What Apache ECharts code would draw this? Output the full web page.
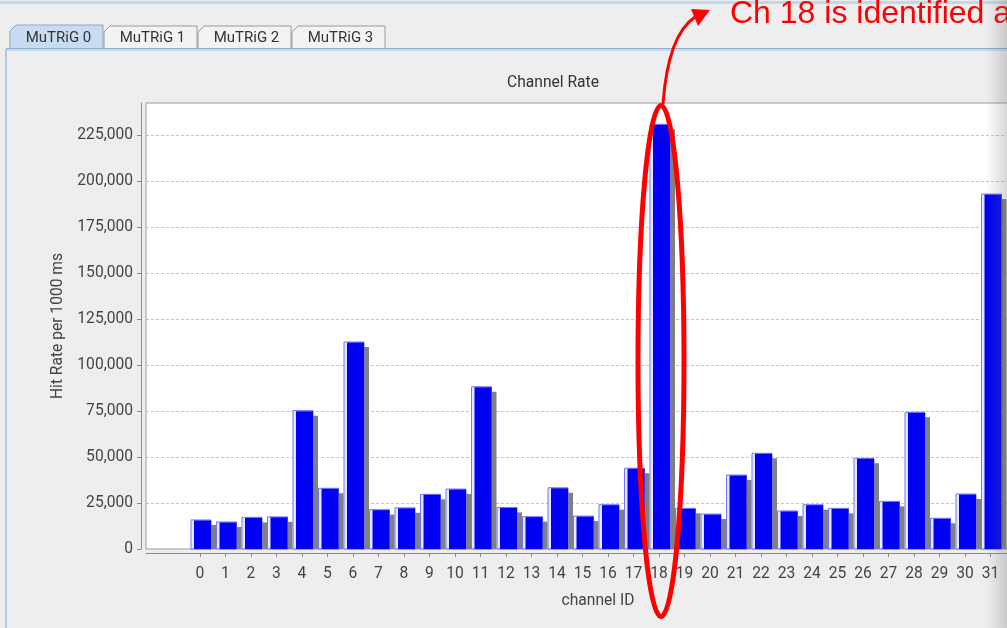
<!DOCTYPE html>
<html>
<head>
<meta charset="utf-8">
<script src="https://cdn.jsdelivr.net/npm/echarts@6/dist/echarts.min.js"></script>
<style>
  html, body { margin: 0; padding: 0; background: #eeeeee; }
  #main { width: 1007px; height: 628px; }
</style>
</head>
<body>
<div id="main"></div>
<script>
// Channel hit rates for MuTRiG 0 (hits per 1000 ms)
const channelLabels = ['0','1','2','3','4','5','6','7','8','9','10','11','12','13','14','15',
                       '16','17','18','19','20','21','22','23','24','25','26','27','28','29','30','31'];
const hitRate = [15800, 14700, 17200, 17500, 75200, 33000, 112500, 21400,
                 22400, 29700, 32600, 88200, 22600, 17600, 33300, 17900,
                 24100, 43900, 230800, 22100, 19000, 40200, 52000, 20700,
                 24100, 22100, 49300, 25900, 74300, 16700, 29900, 192900];
const rateTicks = [0, 25000, 50000, 75000, 100000, 125000, 150000, 175000, 200000, 225000];
const tabNames = ['MuTRiG 0', 'MuTRiG 1', 'MuTRiG 2', 'MuTRiG 3'];
const noteText = 'Ch 18 is identified a';
const noisyChannel = 18;

const FONT = 'Roboto, "Noto Sans", sans-serif';
const FS = 15.6;
const chart = echarts.init(document.getElementById('main'), null, { renderer: 'canvas' });

const channelIdx = channelLabels.map((_, i) => i);
const barData = hitRate.map((v, i) => [i, v]);

// Swing-style tab strip above the plot
function tabGraphics() {
  const tabs = [
    { x0: 10, x1: 103, top: 25 },
    { x0: 104, x1: 197, top: 26 },
    { x0: 198, x1: 291, top: 26 },
    { x0: 292, x1: 385, top: 26 }
  ];
  const out = [];
  out.push({ type: 'rect', shape: { x: 0, y: 1, width: 1007, height: 3 }, style: { fill: '#c3d6ec' }, z: 1 });
  tabs.forEach((t, i) => {
    const sel = i === 0;
    out.push({
      type: 'polygon', z: 2,
      shape: { points: [[t.x0, 49], [t.x0, t.top + 6], [t.x0 + 6, t.top], [t.x1, t.top], [t.x1, 49]] },
      style: { fill: sel ? '#c8dcf1' : '#f3f3f3', stroke: sel ? '#8ea8c3' : '#9a9a9a', lineWidth: 1 }
    });
    out.push({
      type: 'text', z: 3, x: (t.x0 + t.x1) / 2 + 2, y: 38,
      style: { text: tabNames[i], font: '15px ' + FONT, fill: '#333', align: 'center', verticalAlign: 'middle' }
    });
  });
  out.push({ type: 'rect', shape: { x: 6, y: 48, width: 1001, height: 3 }, style: { fill: '#c6d9ed' }, z: 2 });
  out.push({ type: 'line', shape: { x1: 6, y1: 48.5, x2: 1007, y2: 48.5 }, style: { stroke: '#8fabc9', lineWidth: 1 }, z: 3 });
  out.push({ type: 'rect', shape: { x: 5, y: 49, width: 2, height: 579 }, style: { fill: '#b3c9e0' }, z: 2 });
  out.push({
    type: 'text', x: 553, y: 83, z: 10,
    style: { text: 'Channel Rate', font: FS + 'px ' + FONT, fill: '#333', align: 'center', verticalAlign: 'middle' }
  });
  return out;
}

// plot box: the right part runs past the visible page edge
const gridLeft = 146, gridTop = 103, gridRightPx = 1050, gridBottomPx = 549;
const catStep = 25.5, zeroPx = 200;
const xMin = -(zeroPx - gridLeft) / catStep;
const xMax = (gridRightPx - zeroPx) / catStep;
const yMax = 242400;

const option = {
  backgroundColor: '#eeeeee',
  animation: false,
  grid: {
    left: gridLeft, top: gridTop, width: gridRightPx - gridLeft, height: gridBottomPx - gridTop,
    outerBoundsMode: 'none', containLabel: false,
    show: true, backgroundColor: '#ffffff', borderColor: '#9a9a9a', borderWidth: 1
  },
  xAxis: {
    type: 'value', min: xMin, max: xMax, offset: 4,
    splitLine: { show: false },
    axisLine: { show: true, onZero: false, lineStyle: { color: '#8a8a8a', width: 1 } },
    axisTick: { show: true, customValues: channelIdx, length: 4, lineStyle: { color: '#8a8a8a' } },
    axisLabel: {
      customValues: channelIdx, formatter: v => channelLabels[v],
      color: '#444', fontSize: FS, fontFamily: FONT, margin: 13
    },
    name: 'channel ID', nameLocation: 'middle', nameGap: 40,
    nameTextStyle: { color: '#444', fontSize: FS, fontFamily: FONT }
  },
  yAxis: {
    type: 'value', min: 0, max: yMax, interval: 25000, offset: 5,
    axisLine: { show: true, onZero: false, lineStyle: { color: '#8a8a8a', width: 1 } },
    axisTick: { show: true, customValues: rateTicks, length: 4, lineStyle: { color: '#8a8a8a' } },
    axisLabel: {
      customValues: rateTicks, formatter: v => v.toLocaleString('en-US'),
      color: '#444', fontSize: FS, fontFamily: FONT, margin: 8
    },
    splitLine: { show: true, lineStyle: { color: '#c4c4c4', type: [3, 2], width: 1 } },
    name: 'Hit Rate per 1000 ms', nameLocation: 'middle', nameGap: 70,
    nameTextStyle: { color: '#444', fontSize: FS, fontFamily: FONT }
  },
  series: [{
    type: 'custom',
    data: barData,
    encode: { x: 0, y: 1 },
    renderItem: function (params, api) {
      const x = api.value(0), v = api.value(1);
      const top = api.coord([x, v]);
      const base = api.coord([x, 0]);
      const c = top[0], yt = top[1], yb = base[1];
      const h = yb - yt;
      return {
        type: 'group',
        children: [
          // drop shadow
          { type: 'rect', shape: { x: c + 11, y: yt + 5, width: 5, height: Math.max(h - 5, 0) }, style: { fill: '#808080' } },
          // bar outline with light edge
          { type: 'rect', shape: { x: c - 9, y: yt, width: 20, height: h }, style: { fill: '#e6e8ff', stroke: '#7474ff', lineWidth: 1 } },
          // bar body
          { type: 'rect', shape: { x: c - 6, y: yt + 0.5, width: 17, height: h - 0.5 }, style: { fill: '#0000f2' } }
        ]
      };
    }
  }],
  graphic: tabGraphics()
};

chart.setOption(option);

// Callout around the noisy channel
const p18 = chart.convertToPixel({ gridIndex: 0 }, [noisyChannel, 0]);
const cx = p18[0] + 2;
const annot = [
  {
    type: 'ellipse', z: 50,
    shape: { cx: cx, cy: 361, rx: 23, ry: 255.5 },
    style: { fill: 'none', stroke: '#ff0000', lineWidth: 5 }
  },
  {
    type: 'bezierCurve', z: 50,
    shape: { x1: cx + 2, y1: 104, cpx1: cx + 7, cpy1: 35, x2: cx + 34, y2: 17 },
    style: { fill: 'none', stroke: '#ff0000', lineWidth: 3 }
  },
  {
    type: 'polygon', z: 50,
    shape: { points: [[cx + 49, 10], [cx + 30, 9], [cx + 37, 26]] },
    style: { fill: '#ff0000' }
  },
  {
    type: 'text', z: 50, x: 730, y: 14,
    style: { text: noteText, font: '32px "Liberation Sans", Arial, sans-serif', fill: '#ff0000', verticalAlign: 'middle' }
  },
  {
    type: 'rect', z: 60,
    shape: { x: 986, y: 0, width: 21, height: 628 },
    style: {
      fill: new echarts.graphic.LinearGradient(0, 0, 1, 0, [
        { offset: 0, color: 'rgba(110,110,110,0)' },
        { offset: 1, color: 'rgba(110,110,110,0.28)' }
      ])
    }
  }
];
chart.setOption({ graphic: tabGraphics().concat(annot) }, { replaceMerge: ['graphic'] });
</script>
</body>
</html>
